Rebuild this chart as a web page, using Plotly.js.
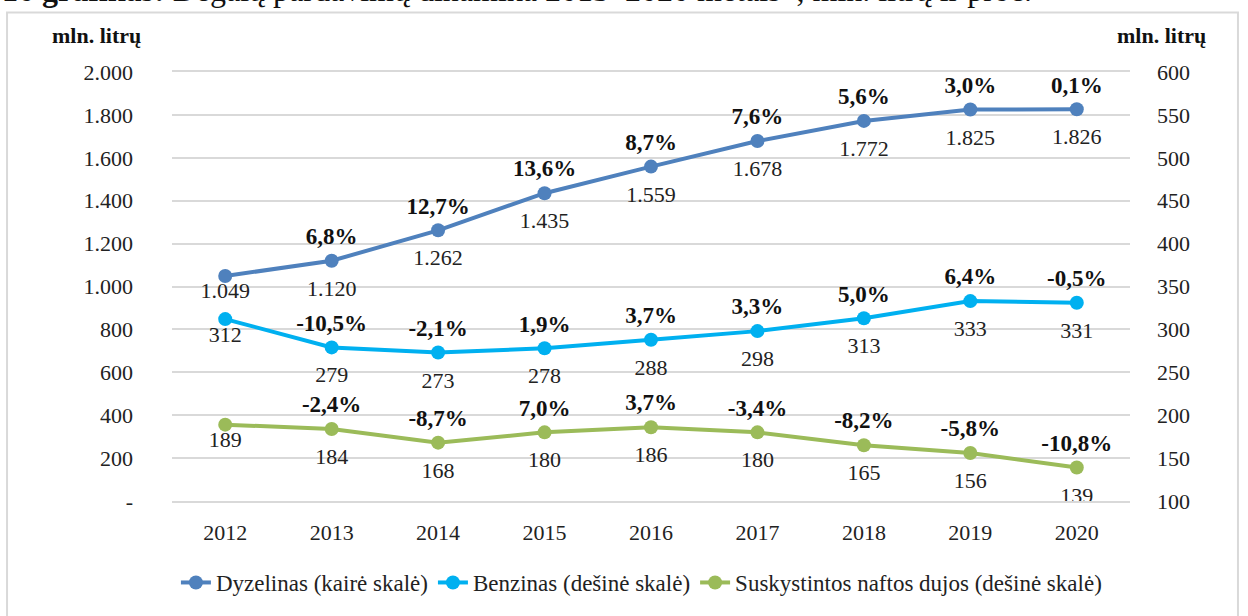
<!DOCTYPE html>
<html>
<head>
<meta charset="utf-8">
<script src="https://cdn.plot.ly/plotly-3.0.1.min.js"></script>
<style>
  html, body { margin: 0; padding: 0; background: #fff; }
  #chart { width: 1248px; height: 616px; }
</style>
</head>
<body>
<div id="chart"></div>
<script>
const years = ['2012', '2013', '2014', '2015', '2016', '2017', '2018', '2019', '2020'];

const dyzelinas = [1049, 1120, 1262, 1435, 1559, 1678, 1772, 1825, 1826];
const dyzelinasPct = [null, 6.8, 12.7, 13.6, 8.7, 7.6, 5.6, 3.0, 0.1];

const benzinas = [312, 279, 273, 278, 288, 298, 313, 333, 331];
const benzinasPct = [null, -10.5, -2.1, 1.9, 3.7, 3.3, 5.0, 6.4, -0.5];

const dujos = [189, 184, 168, 180, 186, 180, 165, 156, 139];
const dujosPct = [null, -2.4, -8.7, 7.0, 3.7, -3.4, -8.2, -5.8, -10.8];

const leftTicks = [0, 200, 400, 600, 800, 1000, 1200, 1400, 1600, 1800, 2000];
const leftTickText = ['-', '200', '400', '600', '800', '1.000', '1.200', '1.400', '1.600', '1.800', '2.000'];
const rightTicks = [100, 150, 200, 250, 300, 350, 400, 450, 500, 550, 600];

const serif = 'Liberation Serif';

function pctText(arr) {
  return arr.map(v => v === null ? '' : '<b>' + v.toFixed(1).replace('.', ',') + '%</b>');
}

function lineTrace(name, y, color, axis) {
  return {
    x: years, y: y, name: name, yaxis: axis,
    type: 'scatter', mode: 'lines+markers',
    line: { color: color, width: 4 },
    marker: { color: color, size: 14 },
    cliponaxis: false
  };
}

// labels are drawn as text on invisible markers, the marker size sets the gap
// (the first year's labels sit closer to the point, as in the original)
function valueLabels(y, axis) {
  return {
    x: years, y: y, yaxis: axis, showlegend: false, hoverinfo: 'skip',
    type: 'scatter', mode: 'markers+text',
    marker: { size: years.map((_, i) => i === 0 ? 8 : 28), opacity: 0 },
    texttemplate: '%{y:,.0f}', textposition: 'bottom center',
    textfont: { family: serif, size: 22, color: '#222' },
    cliponaxis: false
  };
}

function pctLabels(y, pct, axis) {
  return {
    x: years, y: y, yaxis: axis, showlegend: false, hoverinfo: 'skip',
    type: 'scatter', mode: 'markers+text',
    marker: { size: 16, opacity: 0 },
    text: pctText(pct), textposition: 'top center',
    textfont: { family: serif, size: 23, color: '#111' },
    cliponaxis: false
  };
}

const data = [
  lineTrace('Dyzelinas (kairė skalė)', dyzelinas, '#4f81bd', 'y'),
  lineTrace('Benzinas (dešinė skalė)', benzinas, '#00b0f0', 'y2'),
  lineTrace('Suskystintos naftos dujos (dešinė skalė)', dujos, '#9bbb59', 'y2'),
  valueLabels(dyzelinas, 'y'),
  valueLabels(benzinas, 'y2'),
  valueLabels(dujos, 'y2'),
  pctLabels(dyzelinas, dyzelinasPct, 'y'),
  pctLabels(benzinas, benzinasPct, 'y2'),
  pctLabels(dujos, dujosPct, 'y2')
];

const layout = {
  width: 1248, height: 616,
  margin: { l: 172, r: 118, t: 72, b: 111 },
  paper_bgcolor: '#fff', plot_bgcolor: '#fff',
  separators: ',.',
  font: { family: serif, size: 20, color: '#222' },
  showlegend: true,
  legend: {
    orientation: 'h', x: 0.49, xanchor: 'center', y: -0.19, yanchor: 'middle',
    font: { family: serif, size: 23, color: '#222' },
    traceorder: 'normal'
  },
  xaxis: {
    type: 'category', range: [-0.5, 8.5], showgrid: false, zeroline: false,
    showline: true, mirror: true, linecolor: '#d9d9d9', linewidth: 2,
    ticks: '', ticklabelstandoff: 11,
    tickfont: { family: serif, size: 22, color: '#222' }
  },
  yaxis: {
    range: [0, 2000], tickvals: leftTicks, ticktext: leftTickText,
    showgrid: true, gridcolor: '#d9d9d9', gridwidth: 2, zeroline: false,
    showline: false, ticks: '', ticklabelstandoff: 38,
    tickfont: { family: serif, size: 22, color: '#222' }
  },
  yaxis2: {
    range: [100, 600], tickvals: rightTicks, overlaying: 'y', side: 'right',
    showgrid: false, zeroline: false, showline: false, ticks: '', ticklabelstandoff: 26,
    tickfont: { family: serif, size: 22, color: '#222' }
  },
  shapes: [{
    type: 'rect', xref: 'paper', yref: 'paper',
    x0: -0.1722, x1: 1.1127, y0: -0.28, y1: 1.1386,
    line: { color: '#d9d9d9', width: 2 }, fillcolor: 'rgba(0,0,0,0)', layer: 'below'
  }],
  annotations: [
    {
      xref: 'paper', yref: 'paper', x: -0.0783, xanchor: 'center', y: 1.0855, yanchor: 'middle',
      showarrow: false,
      text: '<b>mln. litrų</b>', font: { family: serif, size: 22, color: '#111' }
    },
    {
      xref: 'paper', yref: 'paper', x: 1.0334, xanchor: 'center', y: 1.0855, yanchor: 'middle',
      showarrow: false,
      text: '<b>mln. litrų</b>', font: { family: serif, size: 22, color: '#111' }
    },
    {
      xref: 'paper', yref: 'paper', x: -0.1796, xanchor: 'left', y: 1.1455, yanchor: 'bottom',
      showarrow: false,
      text: '<b>16 grafikas:</b> Degalų pardavimų dinamika 2013–2020 metais*, mln. litrų ir proc.',
      font: { family: serif, size: 32, color: '#111' }
    }
  ]
};

Plotly.newPlot('chart', data, layout, { displayModeBar: false, responsive: false });
</script>
</body>
</html>
